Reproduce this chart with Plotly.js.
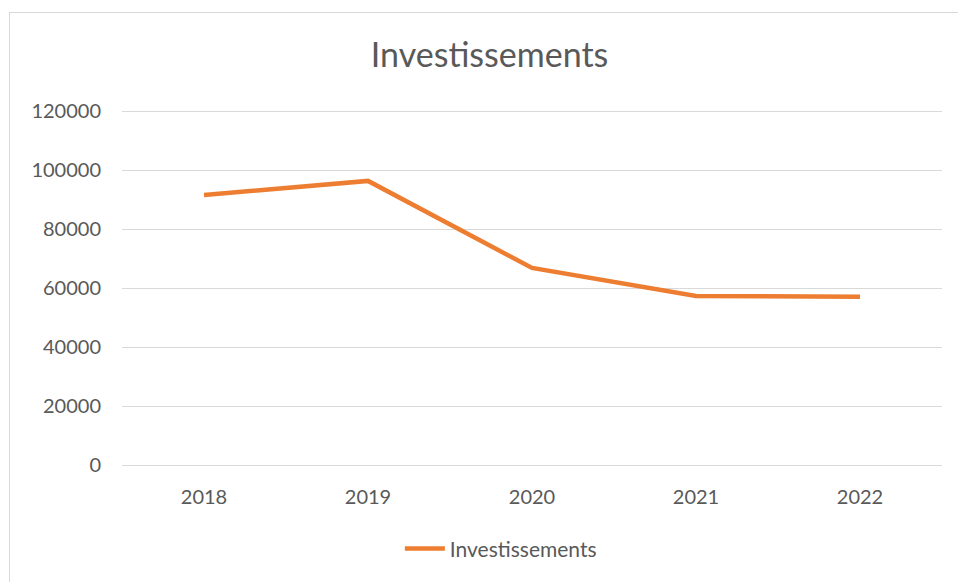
<!DOCTYPE html>
<html>
<head>
<meta charset="utf-8">
<script src="https://cdn.plot.ly/plotly-3.0.1.min.js"></script>
<style>
html,body{margin:0;padding:0;background:#fff;}
#frame{position:absolute;left:9px;top:12px;width:1000px;height:600px;border-left:1px solid #d9d9d9;border-top:1px solid #d9d9d9;}
#chart{position:absolute;left:0;top:0;width:958px;height:582px;}
</style>
</head>
<body>
<div id="frame"></div>
<div id="chart"></div>
<script>
const years = ['2018', '2019', '2020', '2021', '2022'];
const investissements = [91500, 96300, 66800, 57300, 57000];
const yTicks = [0, 20000, 40000, 60000, 80000, 100000, 120000];
const seriesName = 'Investissements';

const fontFamily = 'Lato, "Open Sans", sans-serif';
const textColor = '#595959';

Plotly.newPlot('chart', [{
  x: years,
  y: investissements,
  type: 'scatter',
  mode: 'lines',
  name: seriesName,
  line: {color: '#ED7D31', width: 4.5}
}], {
  width: 958,
  height: 582,
  paper_bgcolor: 'rgba(0,0,0,0)',
  plot_bgcolor: 'rgba(0,0,0,0)',
  margin: {l: 122, r: 16, t: 108, b: 117},
  title: {text: 'Investissements', font: {family: fontFamily, size: 34, color: textColor}, x: 0.511, xanchor: 'center', y: 0.905, yanchor: 'middle'},
  font: {family: fontFamily, color: textColor, size: 20},
  xaxis: {
    type: 'category',
    showgrid: false,
    showline: false,
    zeroline: false,
    ticks: '',
    ticklabelstandoff: 18,
    tickfont: {family: fontFamily, size: 20, color: textColor},
    range: [-0.5, 4.5]
  },
  yaxis: {
    range: [0, 121017],
    tickvals: yTicks,
    ticktext: yTicks.map(String),
    showgrid: true,
    gridcolor: '#d9d9d9',
    gridwidth: 1,
    zeroline: true,
    zerolinecolor: '#d9d9d9',
    zerolinewidth: 1,
    showline: false,
    ticks: '',
    ticklabelstandoff: 20,
    tickfont: {family: fontFamily, size: 20, color: textColor}
  },
  showlegend: true,
  legend: {
    orientation: 'h',
    x: 0.462, xanchor: 'center',
    y: -0.235, yanchor: 'middle',
    font: {family: fontFamily, size: 21, color: textColor},
    itemwidth: 40
  }
}, {displayModeBar: false, staticPlot: true});
</script>
</body>
</html>
